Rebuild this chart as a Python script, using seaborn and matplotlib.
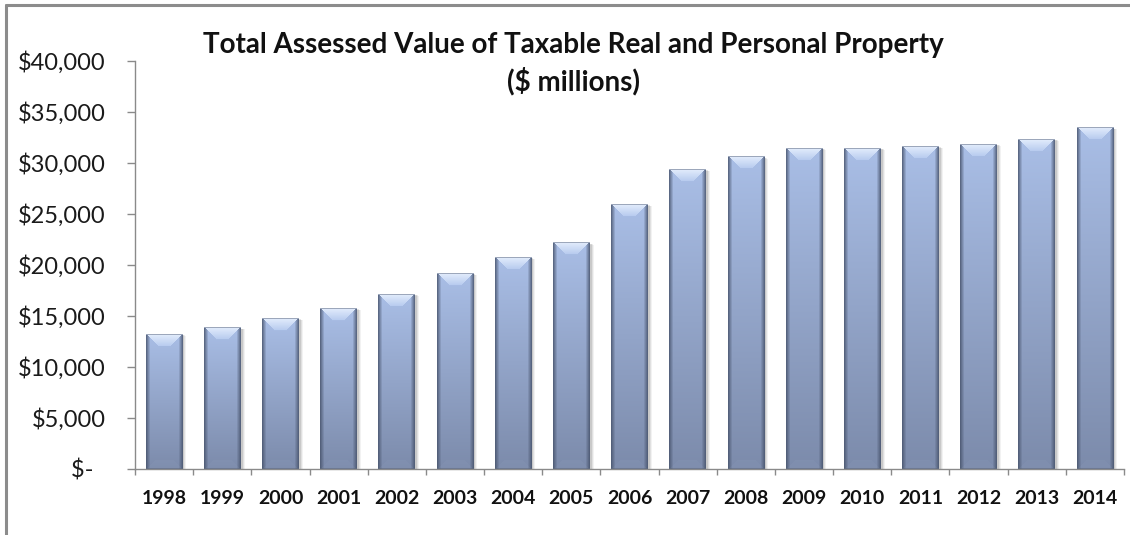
import numpy as np
import pandas as pd
import matplotlib
matplotlib.use("Agg")
import matplotlib.pyplot as plt
import matplotlib.transforms as mtransforms
import seaborn as sns
from matplotlib.colors import to_rgb
from matplotlib.lines import Line2D
from matplotlib.patches import Rectangle

# ---- data ($ millions) ----
years = ["1998", "1999", "2000", "2001", "2002", "2003", "2004", "2005", "2006",
         "2007", "2008", "2009", "2010", "2011", "2012", "2013", "2014"]
assessed_value = [13230, 13850, 14740, 15720, 17130, 19150, 20750, 22160, 25920,
                  29350, 30590, 31470, 31450, 31600, 31860, 32350, 33460]
ytick_values = [0, 5000, 10000, 15000, 20000, 25000, 30000, 35000, 40000]
ytick_labels = ["$-  ", "$5,000", "$10,000", "$15,000", "$20,000",
                "$25,000", "$30,000", "$35,000", "$40,000"]
title_lines = ["Total Assessed Value of Taxable Real and Personal Property",
               "($ millions)"]

sns.set_theme(style="white")
plt.rcParams["font.family"] = ["Lato", "DejaVu Sans"]

W, H = 1130, 535
fig = plt.figure(figsize=(W / 100, H / 100), dpi=100)
fig.patch.set_facecolor("white")
ax = fig.add_axes([135 / W, 1 - 469 / H, (1124 - 135) / W, (469 - 61) / H])

df = pd.DataFrame({"year": years, "value": assessed_value})
sns.barplot(data=df, x="year", y="value", ax=ax, width=0.63,
            color="#a4b7dc", saturation=1, zorder=2)
ax.set_ylim(0, 40000)
ax.set_xlim(-0.5, len(years) - 0.5)


def bevel_image(w, h):
    """RGB array for one bar: vertical gradient, dark rims, light top facet."""
    top = np.array(to_rgb("#a9bee6"))
    bottom = np.array(to_rgb("#7c8bab"))
    t = np.linspace(0, 1, h)[:, None, None]
    img = top * (1 - t) + bottom * t
    img = np.repeat(img, w, axis=1)
    rows = np.arange(h)[:, None]
    cols = np.arange(w)[None, :]
    side = np.minimum(cols, w - 1 - cols)
    # darker rims on both sides
    rim = 4.0
    f = np.clip(1 - side / rim, 0, 1)[..., None]
    dark = np.array(to_rgb("#48546d"))
    img = img * (1 - 0.8 * f) + dark * 0.8 * f
    # light trapezoid facet at the top
    b = 12
    facet = (rows < b) & (side >= rows * 1.05)
    shade = np.clip(rows / b, 0, 1)
    light_top = np.array(to_rgb("#e2ecfc"))
    light_bot = np.array(to_rgb("#b6caee"))
    facet_col = light_top * (1 - shade[..., None]) + light_bot * shade[..., None]
    img = np.where(facet[..., None], facet_col * np.ones_like(img), img)
    # thin dark line along the very top
    img[0, :, :] = img[0, :, :] * 0.55 + dark * 0.45
    # faint lighter facet at the base
    bb = 9
    rb = (h - 1 - rows)
    base = (rb < bb) & (side >= rb * 1.05)
    img = np.where(base[..., None], img * 0.9 + np.array(to_rgb("#9aa9c6")) * 0.1, img)
    img[-1, :, :] = img[-1, :, :] * 0.6 + dark * 0.4
    return np.clip(img, 0, 1)


to_px = ax.transData
for patch in list(ax.patches):
    x0 = patch.get_x()
    wd = patch.get_width()
    ht = patch.get_height()
    (px0, py0), (px1, py1) = to_px.transform([(x0, 0), (x0 + wd, ht)])
    wpx = max(int(round(px1 - px0)), 4)
    hpx = max(int(round(py1 - py0)), 4)
    # soft shadow to the lower right
    for k, a in [(4.0, 0.05), (3.0, 0.07), (2.0, 0.10)]:
        sh_t = mtransforms.offset_copy(ax.transData, fig=fig, x=k, y=-k * 0.4, units="dots")
        ax.add_patch(Rectangle((x0, 0), wd, ht, transform=sh_t,
                               facecolor="black", edgecolor="none", alpha=a, zorder=1))
    ax.imshow(bevel_image(wpx, hpx), extent=(x0, x0 + wd, 0, ht), origin="upper",
              aspect="auto", interpolation="bilinear", zorder=3)
    patch.set_facecolor("none")
    patch.set_edgecolor("none")

ax.set_ylim(0, 40000)
ax.set_xlim(-0.5, len(years) - 0.5)

# axes styling
for s in ["top", "right"]:
    ax.spines[s].set_visible(False)
for s in ["left", "bottom"]:
    ax.spines[s].set_color("#8a8a8a")
    ax.spines[s].set_linewidth(1.0)
    ax.spines[s].set_zorder(4)

ax.set_xlabel("")
ax.set_ylabel("")
ax.set_yticks(ytick_values)
ax.set_yticklabels(ytick_labels)
ax.tick_params(axis="y", direction="out", length=6, width=1, color="#8a8a8a",
               pad=15, labelsize=17, labelcolor="#1a1a1a", left=True)
ax.set_xticks(range(len(years)))
ax.set_xticklabels(years, fontweight="bold")
ax.set_xticks(np.arange(-0.5, len(years), 1.0), minor=True)
ax.tick_params(axis="x", which="major", length=0, pad=15, labelsize=14,
               labelcolor="#111111", bottom=True)
ax.tick_params(axis="x", which="minor", direction="out", length=4.5, width=1,
               color="#8a8a8a", bottom=True)

# title
fig.text(573 / W, 1 - 53 / H, title_lines[0], ha="center", va="baseline",
         fontsize=20, fontweight="bold", color="#111111")
fig.text(573 / W, 1 - 90 / H, title_lines[1], ha="center", va="baseline",
         fontsize=20, fontweight="bold", color="#111111")

# chart-area frame (top and left edges)
fig.add_artist(Line2D([5.5 / W, 5.5 / W], [0, 1 - 4.5 / H], transform=fig.transFigure,
                      color="#8c8c8c", lw=2.2))
fig.add_artist(Line2D([5.5 / W, 1], [1 - 4.5 / H, 1 - 4.5 / H], transform=fig.transFigure,
                      color="#8c8c8c", lw=2.2))

fig.savefig("out.png", dpi=100, facecolor="white")
